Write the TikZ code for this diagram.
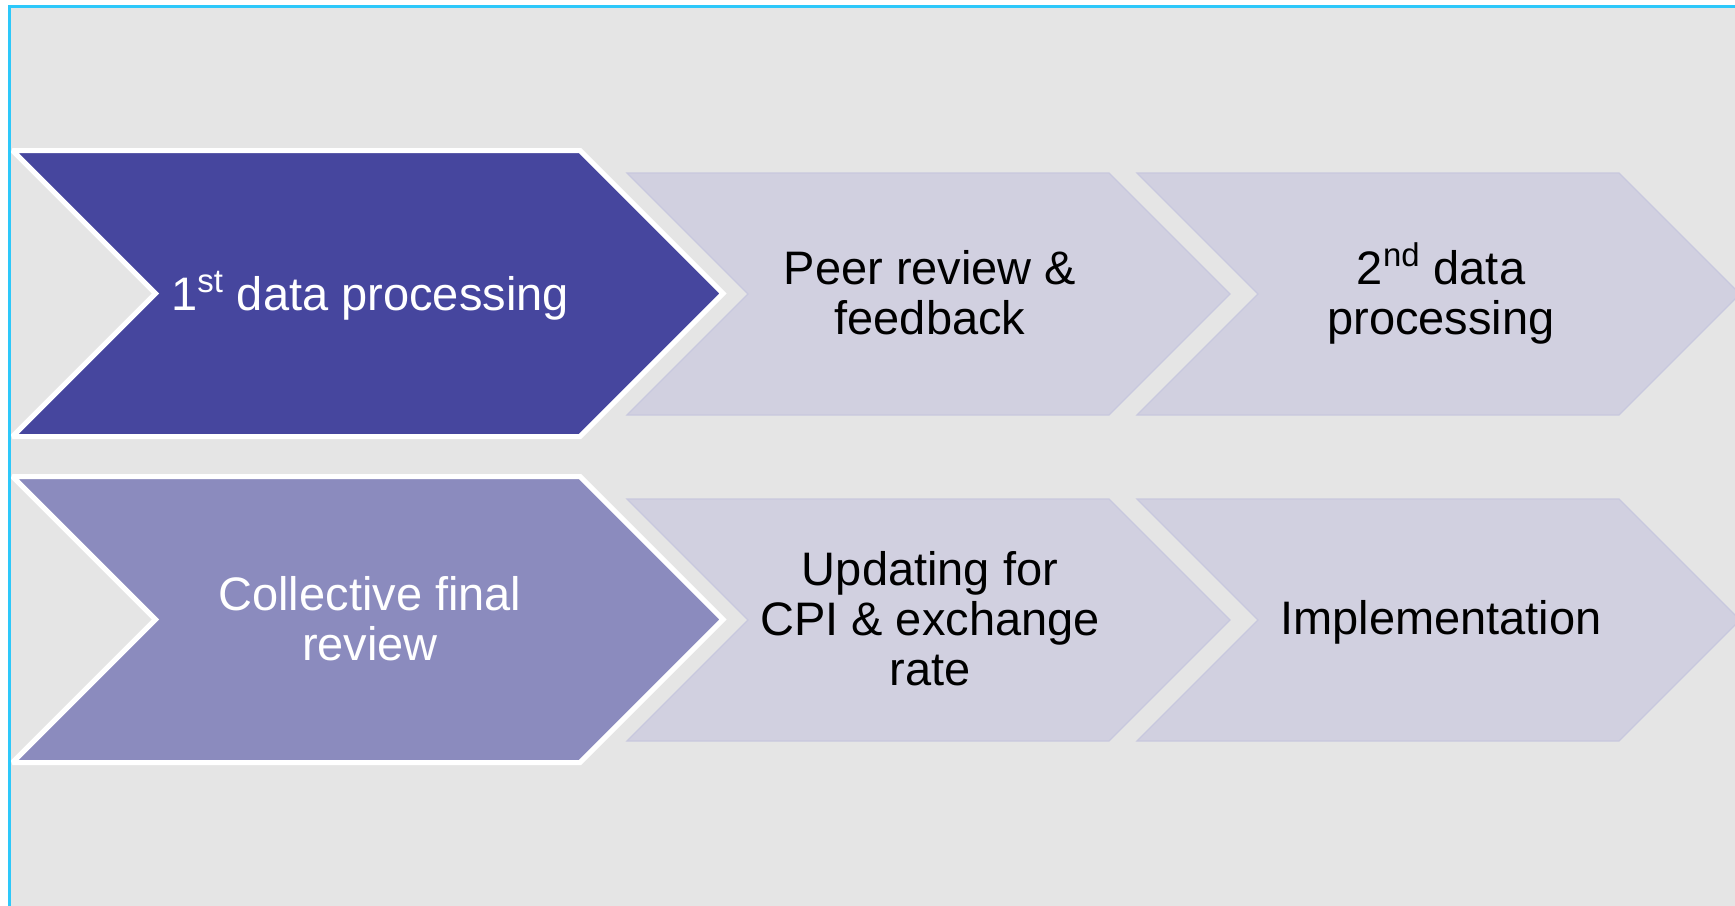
\documentclass[tikz,border=0pt]{standalone}
\usepackage{fontspec}
\setmainfont{Liberation Sans}
\usepackage{tikz}

\definecolor{stepdark}{RGB}{70,70,158}
\definecolor{stepmid}{RGB}{139,139,190}
\definecolor{steplight}{RGB}{209,208,224}
\definecolor{steprim}{RGB}{200,200,222}
\definecolor{slidegray}{RGB}{229,229,229}
\definecolor{slideedge}{RGB}{45,200,250}

% chevron: left, top, body width, half height
\newcommand{\stepchevron}[5]{%
  \filldraw[#5] ({#1},{#2}) -- ({#1+#3},{#2}) -- ({#1+#3+#4},{#2+#4})
    -- ({#1+#3},{#2+2*#4}) -- ({#1},{#2+2*#4}) -- ({#1+#4},{#2+#4}) -- cycle;}

\tikzset{
  active/.style={fill=stepdark, draw=white, line width=2.5pt, line join=miter, miter limit=1.5},
  done/.style={fill=stepmid, draw=white, line width=2.5pt, line join=miter, miter limit=1.5},
  todo/.style={fill=steplight, draw=steprim, line width=0.6pt},
  steptext/.style={align=center, inner sep=0pt, font=\fontsize{23.5}{25}\selectfont},
}

\begin{document}
\begin{tikzpicture}[x=0.5pt, y=-0.5pt]
	\useasboundingbox (0,0) rectangle (1735,905);
	\fill[slidegray] (9,6) rectangle (1760,930);

	% first row
	\stepchevron{12.5}{150.5}{567.5}{143}{active}
	\stepchevron{627}{173}{482}{121}{todo}
	\stepchevron{1137}{173}{482}{121}{todo}

	\node[steptext, text=white] (first) at (370,295.5) {1\textsuperscript{st} data processing};
	\node[steptext] (peer) at (930,293) {Peer review \&\\feedback};
	\node[steptext] (second) at (1441,293) {2\textsuperscript{nd} data\\processing};

	% second row
	\stepchevron{12.5}{476.5}{567.5}{143}{done}
	\stepchevron{627}{499}{482}{121}{todo}
	\stepchevron{1137}{499}{482}{121}{todo}

	\node[steptext, text=white] (final) at (370,619) {Collective final\\review};
	\node[steptext] (update) at (930,619) {Updating for\\CPI \& exchange\\rate};
	\node[steptext] (impl) at (1441,622) {Implementation};

	% slide frame
	\draw[slideedge, line width=1.5pt] (9,930) -- (9,6) -- (1760,6);
\end{tikzpicture}
\end{document}
